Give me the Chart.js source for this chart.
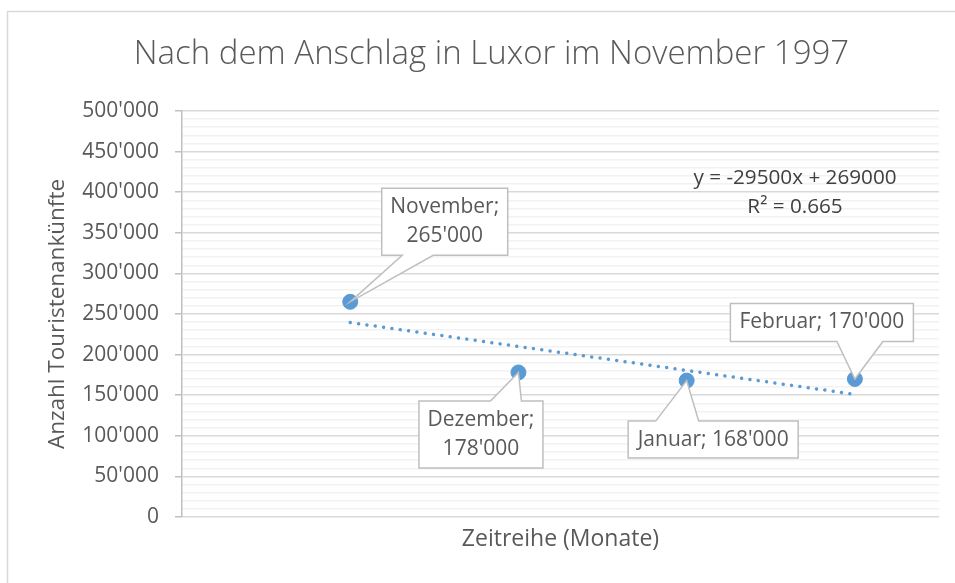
<!DOCTYPE html>
<html>
<head>
<meta charset="utf-8">
<script src="https://cdn.jsdelivr.net/npm/chart.js@4"></script>
<style>
  html, body { margin: 0; padding: 0; background: #ffffff; }
  #wrap { width: 955px; height: 583px; position: relative; }
</style>
</head>
<body>
<div id="wrap"><canvas id="c" width="955" height="583"></canvas></div>
<script>
// ---- data ----
const categories = ['November', 'Dezember', 'Januar', 'Februar'];
const xPositions = [1, 2, 3, 4];
const arrivals = [265000, 178000, 168000, 170000];
const trendX = [1, 4];
const trendValues = [239500, 151000];
const equationLines = ['y = -29500x + 269000', 'R\u00b2 = 0.665'];
const titleText = 'Nach dem Anschlag in Luxor im November 1997';
const yTitle = 'Anzahl Touristenank\u00fcnfte';
const xTitle = 'Zeitreihe (Monate)';

const FONT = '"Open Sans", "Noto Sans", sans-serif';
const TXT = '#595959';
const BLUE = '#5b9bd5';

function fmt(v) {
  return String(v).replace(/\B(?=(\d{3})+(?!\d))/g, "'");
}

// callout boxes (layout only): offsets relative to the point pixel
const calloutLayout = [
  { dx: 31,   dy: -114, w: 126, h: 67, b1: 52,  b2: 83, edge: 'bottom', twoLines: true },
  { dx: -100, dy: 28,   w: 124, h: 67, b1: -28, b2: 3,  edge: 'top',    twoLines: true },
  { dx: -59,  dy: 40,   w: 170, h: 37, b1: -31, b2: 12, edge: 'top',    twoLines: false },
  { dx: -125, dy: -76,  w: 183, h: 38, b1: -18, b2: 28, edge: 'bottom', twoLines: false }
];

const borderPlugin = {
  id: 'frame',
  beforeDraw(chart) {
    const ctx = chart.ctx;
    ctx.save();
    ctx.fillStyle = '#ffffff';
    ctx.fillRect(0, 0, chart.width, chart.height);
    ctx.strokeStyle = '#d9d9d9';
    ctx.lineWidth = 1.5;
    ctx.beginPath();
    ctx.moveTo(7.5, chart.height + 5);
    ctx.lineTo(7.5, 11.5);
    ctx.lineTo(chart.width + 5, 11.5);
    ctx.stroke();
    ctx.restore();
  }
};

const calloutPlugin = {
  id: 'callouts',
  afterDatasetsDraw(chart) {
    const ctx = chart.ctx;
    const meta = chart.getDatasetMeta(0);
    ctx.save();
    ctx.font = '21px ' + FONT;
    meta.data.forEach((pt, i) => {
      const L = calloutLayout[i];
      const px = pt.x, py = pt.y;
      const left = px + L.dx + 0.5, top = py + L.dy + 0.5;
      const right = left + L.w, bottom = top + L.h;
      const b1 = px + L.b1, b2 = px + L.b2;
      ctx.beginPath();
      if (L.edge === 'bottom') {
        ctx.moveTo(left, top);
        ctx.lineTo(right, top);
        ctx.lineTo(right, bottom);
        ctx.lineTo(b2, bottom);
        ctx.lineTo(px, py);
        ctx.lineTo(b1, bottom);
        ctx.lineTo(left, bottom);
      } else {
        ctx.moveTo(left, top);
        ctx.lineTo(b1, top);
        ctx.lineTo(px, py);
        ctx.lineTo(b2, top);
        ctx.lineTo(right, top);
        ctx.lineTo(right, bottom);
        ctx.lineTo(left, bottom);
      }
      ctx.closePath();
      ctx.fillStyle = '#ffffff';
      ctx.fill();
      ctx.strokeStyle = '#bfbfbf';
      ctx.lineWidth = 1.5;
      ctx.stroke();
      ctx.fillStyle = TXT;
      ctx.textAlign = 'center';
      ctx.textBaseline = 'middle';
      const cx = (left + right) / 2, cy = (top + bottom) / 2;
      const val = fmt(arrivals[i]);
      if (L.twoLines) {
        ctx.fillText(categories[i] + ';', cx, cy - 14.5);
        ctx.fillText(val, cx, cy + 14.5);
      } else {
        ctx.fillText(categories[i] + '; ' + val, cx, cy);
      }
    });
    // trendline equation
    const a = chart.chartArea;
    ctx.fillStyle = '#404040';
    ctx.font = '20.7px ' + FONT;
    ctx.textAlign = 'center';
    ctx.textBaseline = 'middle';
    ctx.fillText(equationLines[0], a.right - 144, a.top + 67);
    ctx.fillText(equationLines[1], a.right - 144, a.top + 96);
    ctx.restore();
  }
};

new Chart(document.getElementById('c'), {
  type: 'scatter',
  data: {
    datasets: [
      {
        label: 'Touristenankünfte',
        data: xPositions.map((x, i) => ({ x: x, y: arrivals[i] })),
        backgroundColor: BLUE,
        borderColor: BLUE,
        pointRadius: 7.5,
        pointHoverRadius: 7.5,
        order: 1
      },
      {
        label: 'Trend',
        type: 'line',
        data: trendX.map((x, i) => ({ x: x, y: trendValues[i] })),
        borderColor: BLUE,
        borderWidth: 3.5,
        borderCapStyle: 'round',
        borderDash: [0.01, 8.4],
        pointRadius: 0,
        fill: false,
        order: 2
      }
    ]
  },
  options: {
    responsive: false,
    animation: false,
    devicePixelRatio: 1,
    layout: { padding: { left: 44, right: 16, top: 0, bottom: 30 } },
    plugins: {
      legend: { display: false },
      tooltip: { enabled: false },
      title: {
        display: true,
        text: titleText,
        color: TXT,
        font: { family: FONT, size: 33, weight: '300' },
        padding: { top: 35, bottom: 36.4 }
      }
    },
    scales: {
      x: {
        type: 'linear',
        min: 0,
        max: 4.5,
        grid: { display: false, drawTicks: false },
        border: { display: false },
        ticks: { display: false },
        title: {
          display: true,
          text: xTitle,
          color: TXT,
          font: { family: FONT, size: 23 },
          padding: 0
        },
        afterFit(scale) { scale.height = 36; }
      },
      y: {
        min: 0,
        max: 500000,
        ticks: {
          stepSize: 10000,
          autoSkip: false,
          maxTicksLimit: 100,
          padding: 16,
          color: TXT,
          font: { family: FONT, size: 21 },
          callback: (v) => (v % 50000 === 0 ? fmt(v) : '')
        },
        grid: {
          color: (c) => (c.tick && c.tick.value % 50000 === 0 ? '#d9d9d9' : '#f2f2f2'),
          lineWidth: 1.5,
          tickLength: 7,
          tickColor: (c) => (c.tick && c.tick.value % 50000 === 0 ? '#bfbfbf' : 'rgba(0,0,0,0)')
        },
        border: { display: true, color: '#bfbfbf', width: 1.5 },
        title: {
          display: true,
          text: yTitle,
          color: TXT,
          font: { family: FONT, size: 22.5 },
          padding: 0
        },
        afterFit(scale) { scale.width = 138; }
      }
    }
  },
  plugins: [borderPlugin, calloutPlugin]
});
</script>
</body>
</html>
